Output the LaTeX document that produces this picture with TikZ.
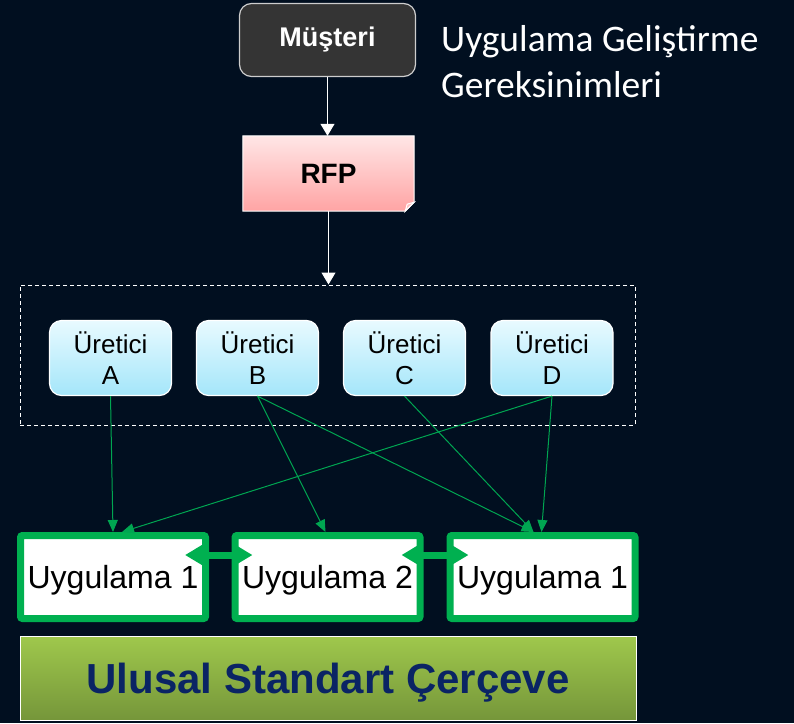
\documentclass[tikz,border=0pt]{standalone}
\usepackage{fontspec}
\setmainfont{Liberation Sans}
\newfontfamily\titlefont{Carlito}
\usetikzlibrary{arrows.meta,calc}
\definecolor{bgcol}{RGB}{1,15,32}
\definecolor{mustfill}{RGB}{52,52,52}
\definecolor{mustedge}{RGB}{205,205,205}
\definecolor{rfptop}{RGB}{255,230,230}
\definecolor{rfpbot}{RGB}{255,164,164}
\definecolor{urettop}{RGB}{232,250,255}
\definecolor{uretbot}{RGB}{164,230,250}
\definecolor{ugreen}{RGB}{0,176,80}
\definecolor{lgreen}{RGB}{0,166,81}
\definecolor{stdtop}{RGB}{159,200,76}
\definecolor{stdbot}{RGB}{117,150,58}
\definecolor{stdtext}{RGB}{10,36,100}
\pgfdeclarelayer{back}
\pgfdeclarelayer{mid}
\pgfsetlayers{back,mid,main}
\tikzset{
  mustbox/.style={rounded corners=12pt, fill=mustfill, draw=mustedge, line width=1.2pt,
    minimum width=176pt, minimum height=73pt, inner sep=0pt, text=white,
    font=\bfseries\fontsize{27}{32}\selectfont},
  rfpbox/.style={minimum width=171pt, minimum height=75pt, inner sep=0pt, text=black,
    font=\bfseries\fontsize{28}{33}\selectfont},
  uretbox/.style={rounded corners=12pt, top color=urettop, bottom color=uretbot, draw=white,
    line width=1.2pt, minimum width=122pt, minimum height=75pt, inner sep=0pt, align=center,
    font=\fontsize{26}{31}\selectfont},
  grpbox/.style={draw=white, line width=1pt, dash pattern=on 4pt off 3pt,
    minimum width=615pt, minimum height=140pt, inner sep=0pt},
  uygbox/.style={draw=ugreen, line width=7pt, fill=white, rounded corners=2pt,
    minimum width=185pt, minimum height=83pt, inner sep=0pt, text depth=0pt,
    font=\fontsize{32}{38}\selectfont},
  stdbox/.style={top color=stdtop, bottom color=stdbot, draw=white, line width=1pt,
    minimum width=616pt, minimum height=84pt, inner sep=0pt, text depth=0pt, text=stdtext,
    font=\bfseries\fontsize{42}{48}\selectfont},
  titletext/.style={text=white, align=left, inner sep=0pt, anchor=north west,
    font=\titlefont\fontsize{37.5}{46}\selectfont},
  warrow/.style={draw=white, line width=1pt, -{Triangle[length=12pt,width=14pt]}},
  garrow/.style={draw=lgreen, line width=1pt, -{Triangle[length=12pt,width=10pt]}},
  darrow/.style={draw=ugreen, line width=7pt,
    {Triangle[length=18pt,width=20pt]}-{Triangle[length=18pt,width=20pt]}}
}
\begin{document}
\begin{tikzpicture}[x=1pt,y=-1pt]
\begin{pgfonlayer}{back}
\fill[bgcol] (0,0) rectangle (794,723);
\end{pgfonlayer}
\useasboundingbox (0,0) rectangle (794,723);

\node[mustbox] (must) at (327.5,40) {Müşteri};
\node[titletext] (title) at (441,25) {Uygulama Geliştirme\\Gereksinimleri};

\node[rfpbox] (rfp) at (328.5,173.5) {RFP};
\begin{pgfonlayer}{mid}
\shade[top color=rfptop, bottom color=rfpbot, draw=white, line width=1pt]
  (rfp.north west) -- (rfp.north east) -- ($(rfp.south east)+(0,-9)$)
  -- ($(rfp.south east)+(-9,0)$) -- (rfp.south west) -- cycle;
\filldraw[fill=rfpbot!70!white, draw=white, line width=1pt]
  ($(rfp.south east)+(-9,0)$) -- ($(rfp.south east)+(0,-9)$) -- ($(rfp.south east)+(-7,-7)$) -- cycle;
\end{pgfonlayer}

\node[grpbox] (grp) at (327.5,355) {};

\node[uretbox] (uA) at (110.5,358) {Üretici\\A};
\node[uretbox] (uB) at (257.5,358) {Üretici\\B};
\node[uretbox] (uC) at (404.5,358) {Üretici\\C};
\node[uretbox] (uD) at (552,358) {Üretici\\D};

\node[uygbox] (u1) at (113,577) {Uygulama 1};
\node[uygbox] (u2) at (327.5,577) {Uygulama 2};
\node[uygbox] (u3) at (542.5,577) {Uygulama 1};

\node[stdbox] (std) at (328,678) {Ulusal Standart Çerçeve};

\draw[warrow] (must.south) -- (must.south |- rfp.north);
\draw[warrow] (rfp.south) -- (rfp.south |- grp.north);

\draw[garrow] (uA.south) -- (u1.north);
\draw[garrow] (uD.south) -- ($(u1.north)+(9,0)$);
\draw[garrow] (uB.south) -- ($(u2.north)+(-2,0)$);
\draw[garrow] (uB.south) -- ($(u3.north)+(-9,0)$);
\draw[garrow] (uC.south) -- ($(u3.north)+(-9,0)$);
\draw[garrow] (uD.south) -- ($(u3.north)+(-1,0)$);

\draw[darrow] ($(u1.north east)+(-24,23)$) -- ($(u2.north west)+(21,23)$);
\draw[darrow] ($(u2.north east)+(-22,23)$) -- ($(u3.north west)+(22,23)$);
\end{tikzpicture}
\end{document}
